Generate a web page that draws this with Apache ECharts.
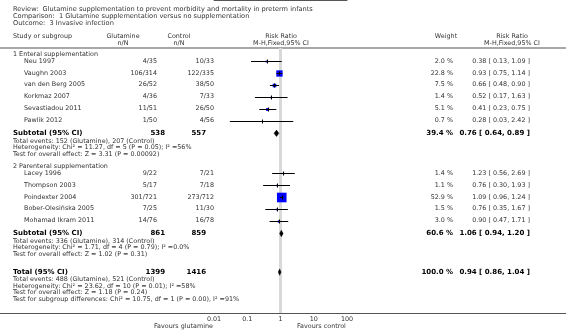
<!DOCTYPE html>
<html><head><meta charset="utf-8">
<script src="https://cdn.jsdelivr.net/npm/echarts@6/dist/echarts.min.js"></script>
<style>html,body{margin:0;padding:0;background:#fff}#c{width:566px;height:332px}</style>
</head><body><div id="c"></div>
<script>
// ---------- DATA ----------
const titleLines = [
  'Review:  Glutamine supplementation to prevent morbidity and mortality in preterm infants',
  'Comparison:  1 Glutamine supplementation versus no supplementation',
  'Outcome:  3 Invasive infection'
];
const groupLabels = ['1 Enteral supplementation', '2 Parenteral supplementation'];

const studies1 = ['Neu 1997','Vaughn 2003','van den Berg 2005','Korkmaz 2007','Sevastiadou 2011','Pawlik 2012'];
const glut1 = ['4/35','106/314','26/52','4/36','11/51','1/50'];
const ctrl1 = ['10/33','122/335','38/50','7/33','26/50','4/56'];
const weight1 = [2.0,22.8,7.5,1.4,5.1,0.7];
const rr1 = [0.38,0.93,0.66,0.52,0.41,0.28];
const lo1 = [0.13,0.75,0.48,0.17,0.23,0.03];
const hi1 = [1.09,1.14,0.90,1.63,0.75,2.42];
const sub1 = {glutN:'538', ctrlN:'557', weight:39.4, rr:0.76, lo:0.64, hi:0.89};
const notes1 = ['Total events: 152 (Glutamine), 207 (Control)',
  'Heterogeneity: Chi\u00b2 = 11.27, df = 5 (P = 0.05); I\u00b2 =56%',
  'Test for overall effect: Z = 3.31 (P = 0.00092)'];

const studies2 = ['Lacey 1996','Thompson 2003','Poindexter 2004','Bober-Olesi\u0144ska 2005','Mohamad Ikram 2011'];
const glut2 = ['9/22','5/17','301/721','7/25','14/76'];
const ctrl2 = ['7/21','7/18','273/712','11/30','16/78'];
const weight2 = [1.4,1.1,52.9,1.5,3.0];
const rr2 = [1.23,0.76,1.09,0.76,0.90];
const lo2 = [0.56,0.30,0.96,0.35,0.47];
const hi2 = [2.69,1.93,1.24,1.67,1.71];
const sub2 = {glutN:'861', ctrlN:'859', weight:60.6, rr:1.06, lo:0.94, hi:1.20};
const notes2 = ['Total events: 336 (Glutamine), 314 (Control)',
  'Heterogeneity: Chi\u00b2 = 1.71, df = 4 (P = 0.79); I\u00b2 =0.0%',
  'Test for overall effect: Z = 1.02 (P = 0.31)'];

const total = {glutN:'1399', ctrlN:'1416', weight:100.0, rr:0.94, lo:0.86, hi:1.04};
const notesTotal = ['Total events: 488 (Glutamine), 521 (Control)',
  'Heterogeneity: Chi\u00b2 = 23.62, df = 10 (P = 0.01); I\u00b2 =58%',
  'Test for overall effect: Z = 1.18 (P = 0.24)',
  'Test for subgroup differences: Chi\u00b2 = 10.75, df = 1 (P = 0.00), I\u00b2 =91%'];

const tickLabels = ['0.01','0.1','1','10','100'];
const favours = ['Favours glutamine','Favours control'];

// ---------- LAYOUT ----------
const W = 566, H = 332;
const FONT = '"DejaVu Sans", Verdana, sans-serif';
const FS = 6.4, FSB = 7.0, FST = 6.6;
const X = {name:13, study:24, glutR:157, ctrlR:214, glutTotR:165, ctrlTotR:206,
           wR:453, rrR:530, glutH:123, ctrlH:179, plotH:281, wH:446, rrH:512,
           favL:213, favR:297};
const PITCH = 11.9, FN = 6.6;
const AXIS_Y = 313;

const texts = [];
function t(str, x, y, align, bold, size, color) {
  texts.push({type:'text', x:x, y:y, silent:true, style:{
    text:str, fill: color || (bold ? '#000' : '#333'),
    font: (bold ? 'bold ' : '') + (size || (bold ? FSB : FS)) + 'px ' + FONT,
    align: align || 'left', verticalAlign:'middle',
    textAlign: align || 'left', textVerticalAlign:'middle'}});
}
const fmt2 = v => v.toFixed(2);
const rrText = (r,l,h) => fmt2(r) + ' [ ' + fmt2(l) + ', ' + fmt2(h) + ' ]';

// titles
titleLines.forEach((s,i) => t(s, X.name, 9.5 + i*6.8, 'left', false, FST));
// header
const HY1 = 36.5, HY2 = 43;
t('Study or subgroup', X.name, HY1);
t('Glutamine', X.glutH, HY1, 'center'); t('n/N', X.glutH, HY2, 'center');
t('Control', X.ctrlH, HY1, 'center'); t('n/N', X.ctrlH, HY2, 'center');
t('Risk Ratio', X.plotH, HY1, 'center'); t('M-H,Fixed,95% CI', X.plotH, HY2, 'center');
t('Weight', X.wH, HY1, 'center');
t('Risk Ratio', X.rrH, HY1, 'center'); t('M-H,Fixed,95% CI', X.rrH, HY2, 'center');

const studyData = [];
const diamondData = [];
const groups = [
  {label:groupLabels[0], s:studies1, g:glut1, c:ctrl1, w:weight1, rr:rr1, lo:lo1, hi:hi1, sub:sub1, notes:notes1},
  {label:groupLabels[1], s:studies2, g:glut2, c:ctrl2, w:weight2, rr:rr2, lo:lo2, hi:hi2, sub:sub2, notes:notes2}
];
let y = 54.5;
groups.forEach(gr => {
  t(gr.label, X.name, y);
  y += 6.5;
  gr.s.forEach((name, i) => {
    t(name, X.study, y);
    t(gr.g[i], X.glutR, y, 'right');
    t(gr.c[i], X.ctrlR, y, 'right');
    t(gr.w[i].toFixed(1) + ' %', X.wR, y, 'right');
    t(rrText(gr.rr[i], gr.lo[i], gr.hi[i]), X.rrR, y, 'right');
    studyData.push([gr.rr[i], y, gr.lo[i], gr.hi[i], gr.w[i]]);
    if (i < gr.s.length - 1) y += PITCH;
  });
  y += 12.8;
  t('Subtotal (95% CI)', X.name, y, 'left', true);
  t(gr.sub.glutN, X.glutTotR, y, 'right', true);
  t(gr.sub.ctrlN, X.ctrlTotR, y, 'right', true);
  t(gr.sub.weight.toFixed(1) + ' %', X.wR, y, 'right', true);
  t(rrText(gr.sub.rr, gr.sub.lo, gr.sub.hi), X.rrR, y, 'right', true);
  diamondData.push([gr.sub.rr, y, gr.sub.lo, gr.sub.hi]);
  y += 7.6;
  gr.notes.forEach((n, i) => { t(n, X.name, y); if (i < gr.notes.length - 1) y += FN; });
  y += 12.5;
});
y += 5.3;
t('Total (95% CI)', X.name, y, 'left', true);
t(total.glutN, X.glutTotR, y, 'right', true);
t(total.ctrlN, X.ctrlTotR, y, 'right', true);
t(total.weight.toFixed(1) + ' %', X.wR, y, 'right', true);
t(rrText(total.rr, total.lo, total.hi), X.rrR, y, 'right', true);
diamondData.push([total.rr, y, total.lo, total.hi]);
y += 7.4;
notesTotal.forEach(n => { t(n, X.name, y); y += FN; });

t(favours[0], X.favL, 326.5, 'right');
t(favours[1], X.favR, 326.5, 'left');

// table rules
texts.push({type:'line', silent:true, shape:{x1:0, y1:48, x2:W, y2:48}, style:{stroke:'#a8a8a8', lineWidth:2}});
texts.push({type:'line', silent:true, shape:{x1:0, y1:AXIS_Y + 0.5, x2:W, y2:AXIS_Y + 0.5}, style:{stroke:'#555', lineWidth:1}});

// ---------- CHART ----------
const chart = echarts.init(document.getElementById('c'), null, {renderer:'canvas', width:W, height:H});
const SQ_K = 1.32;
chart.setOption({
  animation:false,
  backgroundColor:'#fff',
  grid:{left:214, right:W - 347, top:0, bottom:H - AXIS_Y, containLabel:false},
  xAxis:{type:'log', logBase:10, min:0.01, max:100,
    axisLine:{show:true, lineStyle:{color:'#555', width:1}},
    axisTick:{show:true, inside:true, length:3, lineStyle:{color:'#555'}},
    axisLabel:{fontSize:FS, fontFamily:FONT, color:'#333', margin:3,
      formatter: v => tickLabels.find(s => Math.abs(Math.log10(+s) - Math.log10(v)) < 1e-6) || ''},
    splitLine:{show:false}},
  yAxis:{type:'value', inverse:true, min:0, max:AXIS_Y, show:false},
  series:[
    {type:'line', data:[[1,48],[1,AXIS_Y]], symbol:'none', silent:true, z:1,
     lineStyle:{color:'#d9d9d9', width:3}},
    {type:'custom', z:3, clip:false, silent:true, data:studyData,
     renderItem:(p, api) => {
       const c = api.coord([api.value(0), api.value(1)]);
       const l = api.coord([api.value(2), api.value(1)]);
       const h = api.coord([api.value(3), api.value(1)]);
       const yy = Math.round(c[1]) + 0.5;
       const s = SQ_K * Math.sqrt(api.value(4));
       return {type:'group', children:[
         {type:'rect', shape:{x:c[0]-s/2, y:yy-s/2, width:s, height:s}, style:{fill:'#0000ff'}},
         {type:'line', shape:{x1:l[0], y1:yy, x2:h[0], y2:yy}, style:{stroke:'#000', lineWidth:1}},
         {type:'line', shape:{x1:Math.round(c[0])+0.5, y1:yy-2, x2:Math.round(c[0])+0.5, y2:yy+2}, style:{stroke:'#000', lineWidth:1}}
       ]};
     }},
    {type:'custom', z:3, clip:false, silent:true, data:diamondData,
     renderItem:(p, api) => {
       const c = api.coord([api.value(0), api.value(1)]);
       const l = api.coord([api.value(2), api.value(1)]);
       const h = api.coord([api.value(3), api.value(1)]);
       const d = 3.2;
       return {type:'polygon', shape:{points:[[l[0],c[1]],[c[0],c[1]-d],[h[0],c[1]],[c[0],c[1]+d]]},
               style:{fill:'#000', stroke:'#000', lineWidth:0.5}};
     }}
  ],
  graphic:texts
});
</script>
</body></html>
